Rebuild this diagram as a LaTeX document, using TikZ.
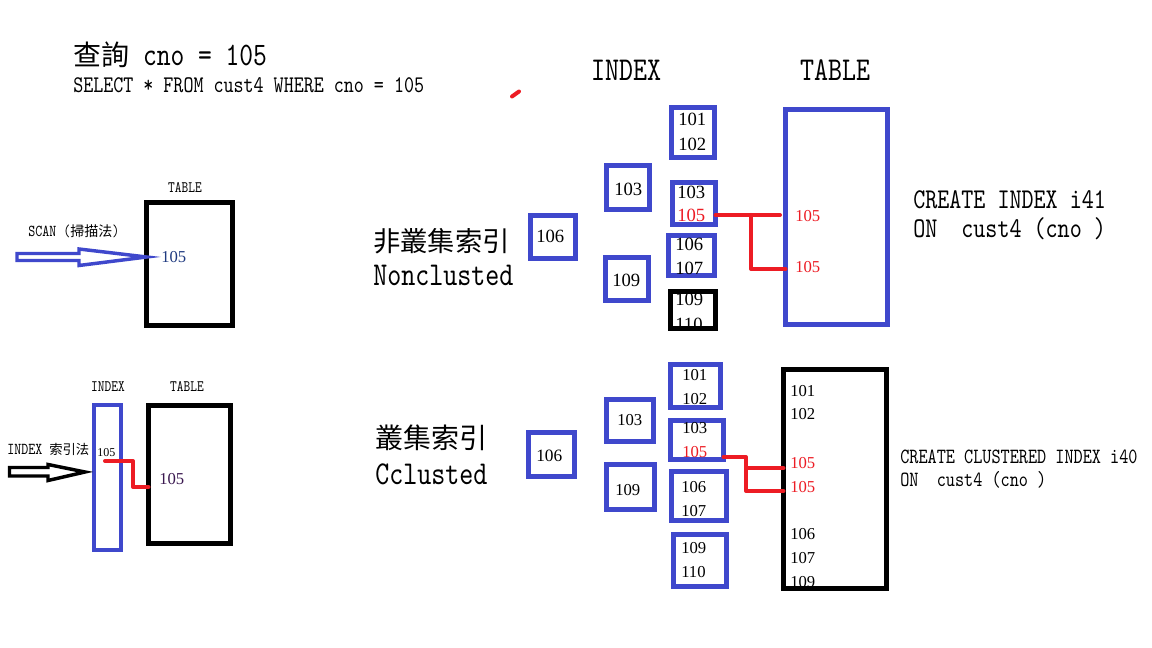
\documentclass[tikz,border=0pt]{standalone}
\usepackage{fontspec}
\setmainfont{Liberation Serif}
\newfontfamily\mono[FakeStretch=0.8]{lmmono10-regular.otf}
\newfontfamily\cjk{Noto Sans CJK TC}
\definecolor{pblue}{HTML}{3F48CC}
\definecolor{pred}{HTML}{ED1C24}
\definecolor{dnavy}{HTML}{1F3A80}
\definecolor{dpurp}{HTML}{3A1850}
\newcommand\fs[1]{\fontsize{#1}{#1}\selectfont}
\newcommand\bx[6]{\node[#2,inner sep=0pt,outer sep=0pt,minimum width={(#5-#3)*0.75pt},minimum height={(#6-#4)*0.75pt}] (#1) at ({(#3+#5)/2},{(#4+#6)/2}) {};}
\begin{document}
\begin{tikzpicture}[x=0.75pt,y=-0.75pt,
  bb/.style={draw=pblue,line width=3.75pt},
  kb/.style={draw=black,line width=3.75pt},
  txt/.style={inner sep=0pt,anchor=west},
  numa/.style={txt,font=\fs{14}},
  numb/.style={txt,font=\fs{12.5}},
  lbl/.style={inner sep=0pt,font=\mono\fs{12}},
  link/.style={draw=pred,line width=3pt,line join=round,line cap=round}
]
\useasboundingbox[fill=white] (0,0) rectangle (1152,648);

% ---- title ----
\node[txt] (title) at (73,55) {{\cjk\fs{21}查詢}{\mono\fs{24.6}\ cno = 105}};
\node[txt,font=\mono\fs{17.9}] (sql) at (73,85) {SELECT * FROM cust4 WHERE cno = 105};
\draw[pred,line width=3pt,line cap=round] (512,96.5) -- (519,91.5);

% ---- headers ----
\node[inner sep=0pt,font=\mono\fs{25}] (hidx) at (626,70) {INDEX};
\node[inner sep=0pt,font=\mono\fs{25}] (htab) at (835,70) {TABLE};

% ---- scan ----
\node[lbl] (sTAB) at (185,188) {TABLE};
\bx{st}{kb}{146.5}{202.5}{232.5}{325.5}
\node[numb,text=dnavy] (s105) at (161,257) {105};
\node[txt] (sscan) at (28,231) {{\mono\fs{12.5}SCAN (}{\cjk\fs{10.5}掃描法}{\mono\fs{12.5})}};
\draw[pblue,line width=2.6pt,line join=miter] (17,253.5) -- (79,253.5) -- (79,249) -- (st.west |- s105) -- (79,265.5) -- (79,260.5) -- (17,260.5) -- cycle;

% ---- index method ----
\node[lbl] (iIDX) at (108,387) {INDEX};
\node[lbl] (iTAB) at (187,387) {TABLE};
\bx{ib}{draw=pblue,line width=3pt}{94}{405}{121}{550}
\bx{it}{kb}{148.5}{405.5}{230.5}{543.5}
\node[txt,font=\fs{9}] (i105a) at (97,453) {105};
\node[numb,text=dpurp] (i105b) at (159,479) {105};
\node[txt] (ilabel) at (7,449) {{\mono\fs{12.5}INDEX }{\cjk\fs{10}索引法}};
\draw[black,line width=2.6pt,line join=miter] (9.5,467.5) -- (48,467.5) -- (48,464.5) -- (85,472) -- (48,480.5) -- (48,476) -- (9.5,476) -- cycle;
\draw[link] (105,461) -- (133,461) -- (133,487) -- (it.west |- 0,487);

% ---- nonclustered ----
\node[txt,font=\cjk\fs{20.5}] (ncz) at (373,241) {非叢集索引};
\node[txt,font=\mono\fs{25}] (nce) at (373,275) {Nonclusted};
\bx{nb0}{bb}{530.5}{215.5}{575.5}{258.5}
\node[numa] (nt106) at (536,236) {106};
\bx{nm1}{bb}{606.5}{165.5}{649.5}{209.5}
\node[numa] (nt103) at (614,189) {103};
\bx{nm2}{bb}{605.5}{257.5}{648.5}{300.5}
\node[numa] (nt109) at (612,280) {109};
\bx{nl1}{bb}{671.5}{107.5}{714.5}{157.5}
\node[numa] (nl101) at (678,119) {101};
\node[numa] (nl102) at (678,144) {102};
\bx{nl2}{bb}{672.5}{182.5}{715.5}{224.5}
\node[numa] (nl103) at (677,192) {103};
\node[numa,text=pred] (nl105) at (677,215) {105};
\bx{nl3}{bb}{668.5}{235.5}{714.5}{275.5}
\node[numa] (nl106) at (675,244) {106};
\node[numa] (nl107) at (675,268) {107};
\bx{nl4}{kb}{670.5}{291.5}{715.5}{328.5}
\begin{scope}
\clip (672.5,293.5) rectangle (713.5,326.5);
\node[numa] (nl109) at (675,299) {109};
\node[numa] (nl110) at (675,324) {110};
\end{scope}
\bx{ntab}{bb}{785.5}{109.5}{887.5}{324.5}
\node[numb,text=pred] (nr105a) at (795,216) {105};
\node[numb,text=pred] (nr105b) at (795,267) {105};
\coordinate (nj) at (751,215);
\draw[link] (nl2.east |- 0,215) -- (780,215);
\draw[link] (nj) -- (751,269) -- (ntab.west |- 0,269);
\node[txt,font=\mono\fs{21.5}] (ncr1) at (913,200) {CREATE INDEX i41};
\node[txt,font=\mono\fs{21.5}] (ncr2) at (913,229) {ON\ \ cust4 (cno )};

% ---- clustered ----
\node[txt,font=\cjk\fs{21}] (ccz) at (375,438) {叢集索引};
\node[txt,font=\mono\fs{25}] (cce) at (375,474) {Cclusted};
\bx{cb0}{bb}{528.5}{432.5}{574.5}{476.5}
\node[txt,font=\fs{13}] (ct106) at (536,456) {106};
\bx{cm1}{bb}{606.5}{399.5}{653.5}{441.5}
\node[numb] (ct103) at (617,420) {103};
\bx{cm2}{bb}{606.5}{464.5}{654.5}{509.5}
\node[numb] (ct109) at (615,490) {109};
\bx{cl1}{bb}{670.5}{364.5}{720.5}{407.5}
\node[numb] (cl101) at (682,375) {101};
\node[numb] (cl102) at (682,399) {102};
\bx{cl2}{bb}{670.5}{420.5}{723.5}{459.5}
\node[numb] (cl103) at (682,428) {103};
\node[numb,text=pred] (cl105) at (682,452) {105};
\bx{cl3}{bb}{671.5}{471.5}{726.5}{520.5}
\node[numb] (cl106) at (681,487) {106};
\node[numb] (cl107) at (681,511) {107};
\bx{cl4}{bb}{673.5}{534.5}{726.5}{586.5}
\node[numb] (cl109) at (681,548) {109};
\node[numb] (cl110) at (681,572) {110};
\bx{ctab}{kb}{783.5}{369.5}{886.5}{588.5}
\node[numb] (cr101) at (790,391) {101};
\node[numb] (cr102) at (790,414) {102};
\node[numb,text=pred] (cr105a) at (790,463) {105};
\node[numb,text=pred] (cr105b) at (790,487) {105};
\node[numb] (cr106) at (790,534) {106};
\node[numb] (cr107) at (790,558) {107};
\begin{scope}
\clip (785,560) rectangle (885,586);
\node[numb] (cr109) at (790,582) {109};
\end{scope}
\coordinate (cj) at (746,468);
\draw[link] (cl2.east |- 0,457) -- (746,457) -- (746,491) -- (ctab.west |- 0,491);
\draw[link] (cj) -- (ctab.west |- 0,468);
\node[txt,font=\mono\fs{16.3}] (ccr1) at (900,457) {CREATE CLUSTERED INDEX i40};
\node[txt,font=\mono\fs{16.3}] (ccr2) at (900,480) {ON\ \ cust4 (cno )};
\end{tikzpicture}
\end{document}
